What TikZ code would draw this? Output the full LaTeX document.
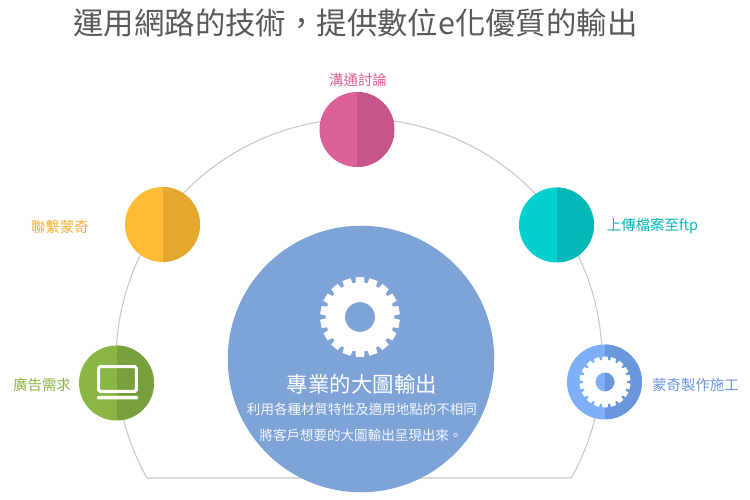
\documentclass[tikz,border=0pt]{standalone}
\usepackage{fontspec}
\setmainfont{Noto Sans CJK TC}
\usetikzlibrary{
  positioning
}
\definecolor{titlecolor}{RGB}{89, 89, 89}
\definecolor{arccolor}{RGB}{200, 200, 200}
\definecolor{maincolor}{RGB}{126, 163, 215}
\definecolor{pinkcolor}{RGB}{220, 95, 154}
\definecolor{pinkdark}{RGB}{197, 85, 138}
\definecolor{yellowcolor}{RGB}{255, 187, 51}
\definecolor{yellowdark}{RGB}{229, 168, 46}
\definecolor{tealcolor}{RGB}{5, 208, 208}
\definecolor{tealdark}{RGB}{4, 184, 184}
\definecolor{greencolor}{RGB}{138, 182, 69}
\definecolor{greendark}{RGB}{120, 160, 60}
\definecolor{bluecolor}{RGB}{127, 175, 248}
\definecolor{bluedark}{RGB}{106, 151, 220}
\definecolor{orangelabel}{RGB}{245, 175, 50}
\tikzset{
titlelabel/.style={
  font=\fontsize{17.3}{20}\selectfont,
  text=titlecolor
},
steplabel/.style={
  font=\fontsize{8.2}{10}\selectfont
},
halfcircle/.style 2 args={
  circle,
  minimum size=15mm,
  inner sep=0pt,
  fill=#1,
  path picture={
    \fill[#2] (path picture bounding box.north) rectangle (path picture bounding box.south east);
  }
},
maincircle/.style={
  circle,
  minimum size=53.3mm,
  inner sep=0pt,
  fill=maincolor
},
headlabel/.style={
  font=\fontsize{12.2}{14}\selectfont,
  text=white
},
sublabel/.style={
  font=\fontsize{7.7}{9}\selectfont,
  text=white!92!maincolor
},
arcline/.style={
  draw=arccolor,
  line width=0.6pt
},
gear/.pic={
  \fill[white, even odd rule] (0,0) circle[radius=15] (3:34.5)
    \foreach \a in {10,30,...,350} {
      -- (\a-7.5:34.5) -- (\a-6:40) -- (\a+6:40) -- (\a+7.5:34.5)
    } -- cycle;
}
}

\begin{document}
\begin{tikzpicture}[x=0.2mm, y=0.2mm]
  \useasboundingbox (0,0) rectangle (750,500);
  \fill[white] (0,0) rectangle (750,500);

  \node[titlelabel] (title) at (355.5,477) {運用網路的技術，提供數位e化優質的輸出};

  % half ring behind the circles
  \coordinate (arcleft) at (147,22);
  \coordinate (arcright) at (571.2,22);
  \draw[arcline] (arcright) -- (arcleft) arc[start angle=209.2, end angle=-29.2, x radius=243, y radius=241.5];

  \node[maincircle] (main) at (361,141) {};
  \pic at (360,183) {gear};
  \node[headlabel] (mainhead) at (362,116) {專業的大圖輸出};
  \node[sublabel] (mainsub) at (362,91) {利用各種材質特性及適用地點的不相同};
  \node[sublabel] (mainsubb) at (361,65) {將客戶想要的大圖輸出呈現出來。};

  \node[halfcircle={pinkcolor}{pinkdark}] (talk) at (357,370.5) {};
  \node[halfcircle={yellowcolor}{yellowdark}] (contact) at (162.5,275.5) {};
  \node[halfcircle={tealcolor}{tealdark}] (upload) at (556.5,275) {};
  \node[halfcircle={greencolor}{greendark}] (ad) at (116.5,117) {};
  \node[halfcircle={bluecolor}{bluedark}] (build) at (604.5,118) {};
  \pic[scale=0.64] at (605,118) {gear};

  % laptop
  \draw[white, line width=1.8pt, rounded corners=1pt] (98.6,108.6) rectangle (136.4,133.4);
  \fill[white, rounded corners=0.5pt] (97,100.5) rectangle (138,104);

  \node[steplabel, text=pinkcolor] (talklabel) at (358,420) {溝通討論};
  \node[steplabel, text=orangelabel] (contactlabel) at (60,273) {聯繫蒙奇};
  \node[steplabel, text=tealdark] (uploadlabel) at (652.5,274) {上傳檔案至ftp};
  \node[steplabel, text=greencolor] (adlabel) at (42,115) {廣告需求};
  \node[steplabel, text=bluedark] (buildlabel) at (695.5,115) {蒙奇製作施工};
\end{tikzpicture}
\end{document}
